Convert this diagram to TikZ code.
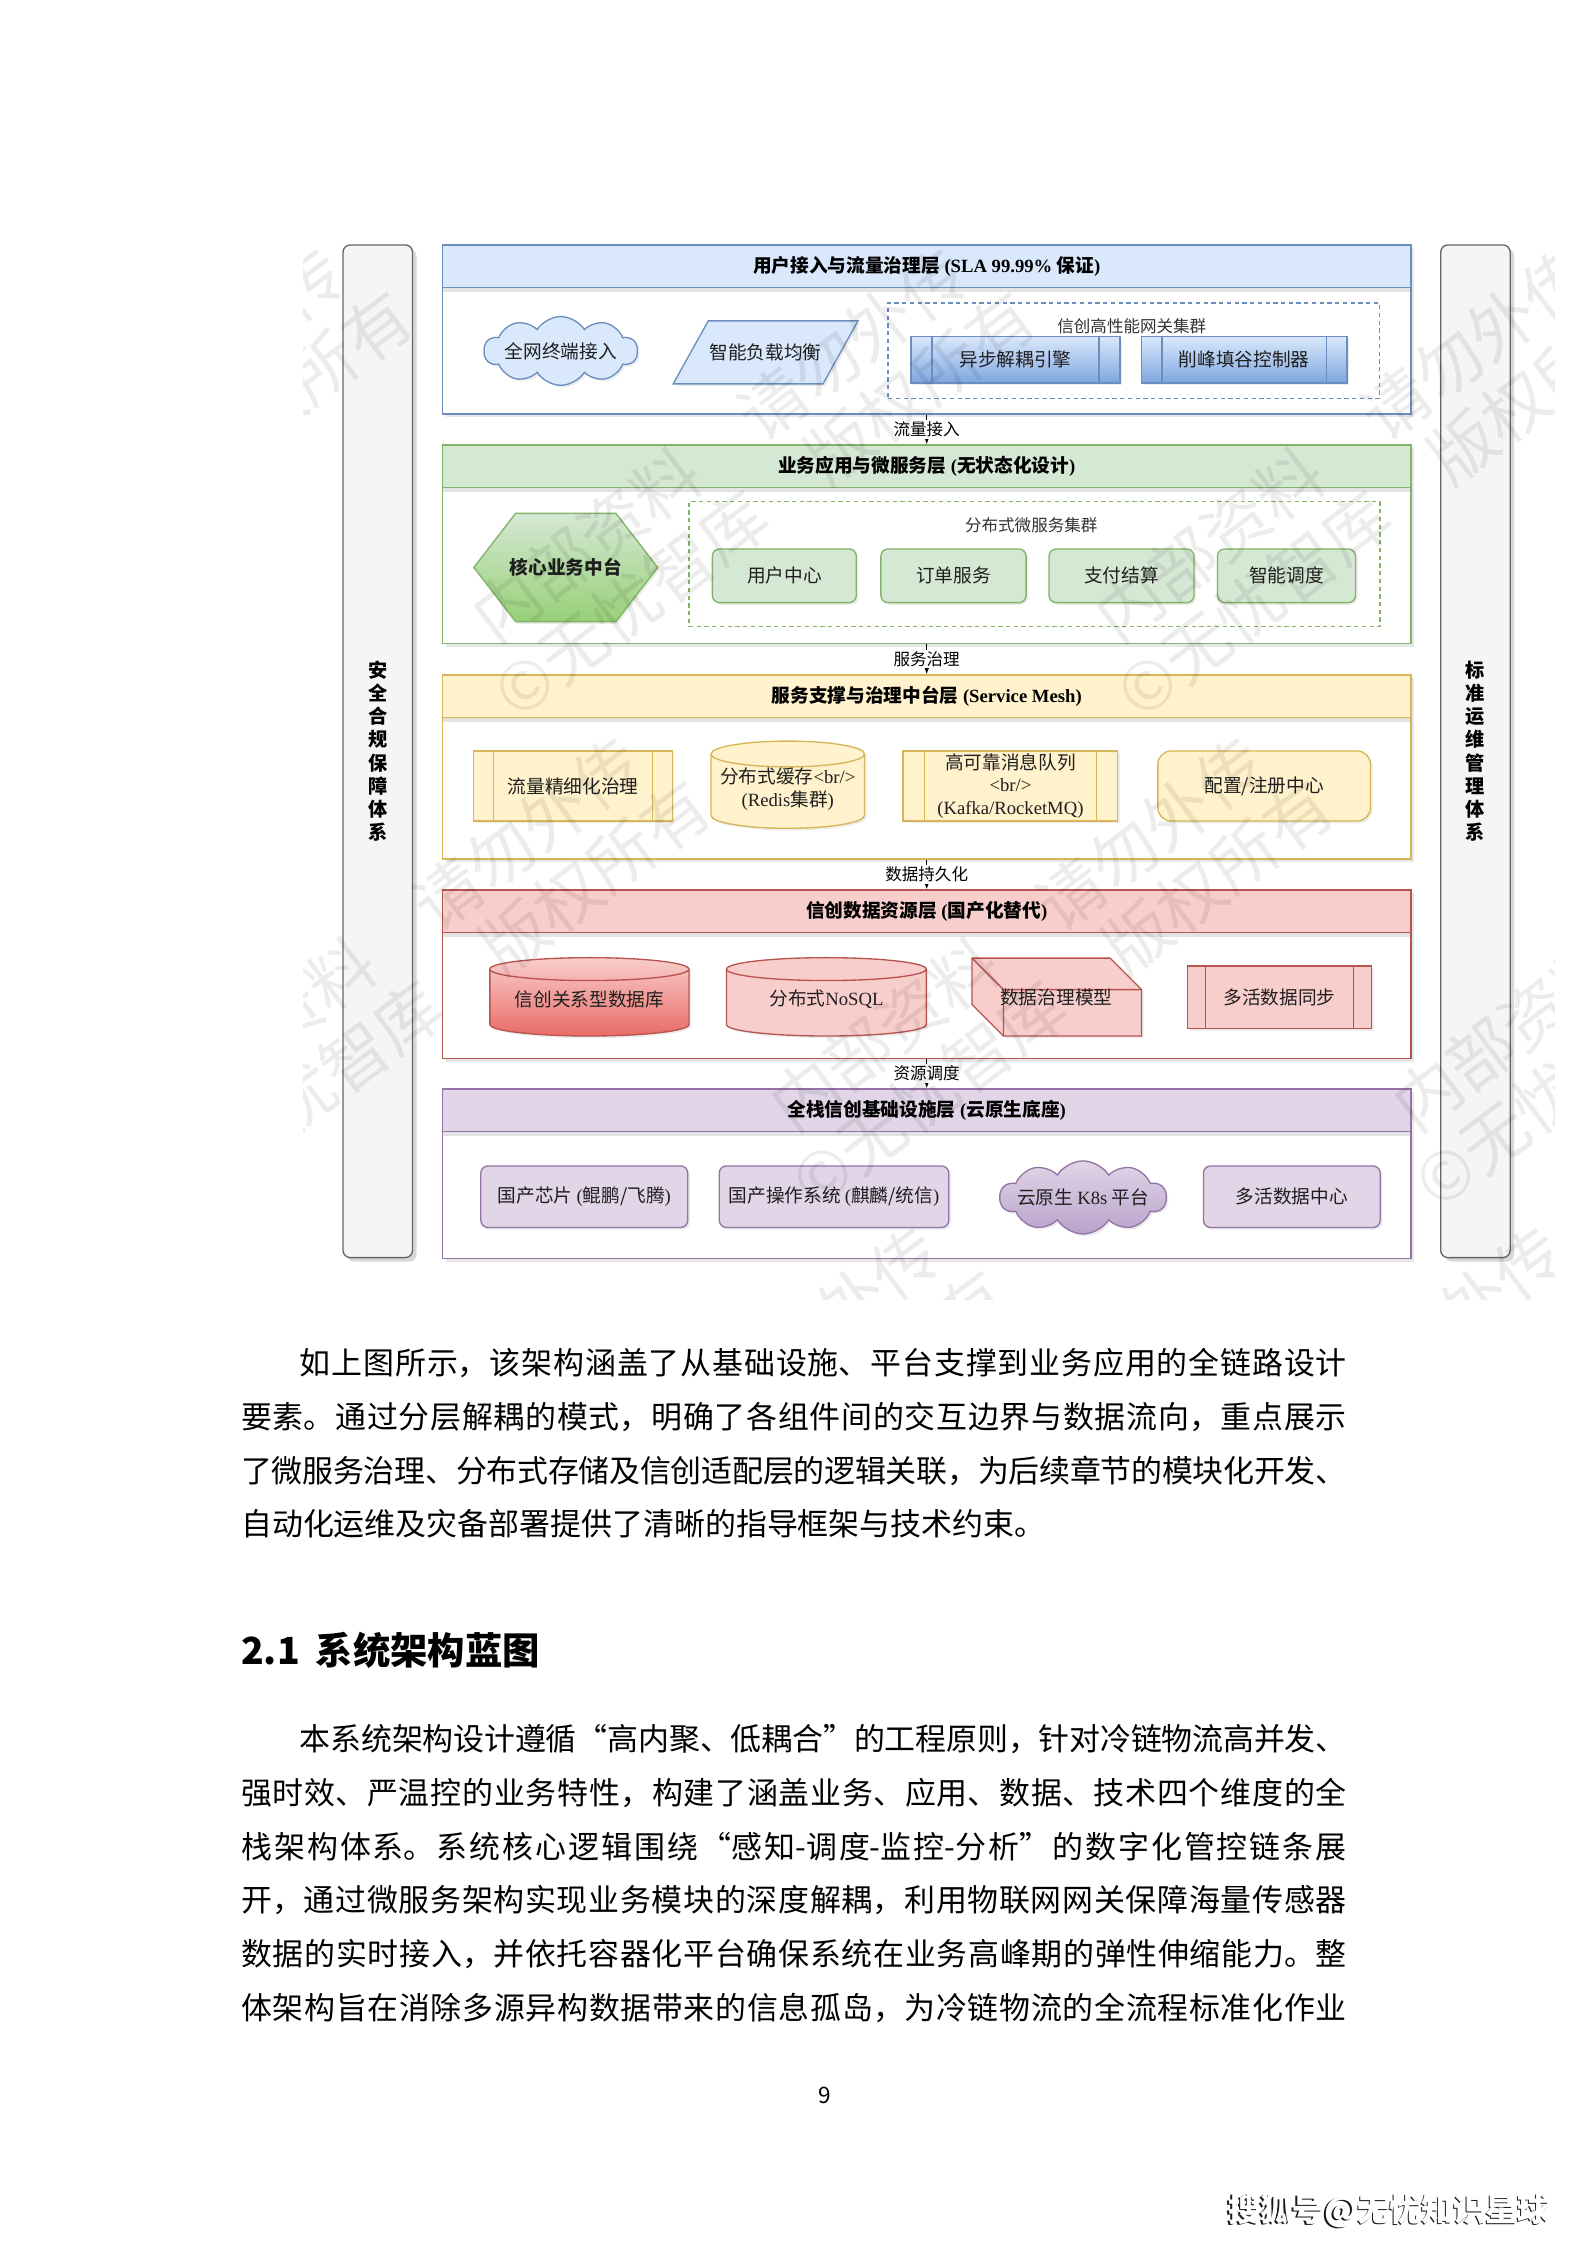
\documentclass[tikz,border=0pt]{standalone}
\usepackage{fontspec}
\setmainfont{Noto Sans CJK SC}
\newfontfamily\latnf{Liberation Serif}
\newcommand\latn[1]{{\latnf #1}}
\usetikzlibrary{shapes.symbols,arrows.meta,calc,shadows}
\XeTeXlinebreaklocale "zh"
\XeTeXlinebreakskip=0pt plus 3pt minus 0.4pt
\definecolor{bF}{HTML}{DAE8FC}\definecolor{bS}{HTML}{6C8EBF}\definecolor{bD}{HTML}{7EA6E0}
\definecolor{gF}{HTML}{D5E8D4}\definecolor{gS}{HTML}{82B366}\definecolor{gD}{HTML}{97D077}
\definecolor{yF}{HTML}{FFF2CC}\definecolor{yS}{HTML}{D6B656}
\definecolor{rF}{HTML}{F8CECC}\definecolor{rS}{HTML}{B85450}\definecolor{rD}{HTML}{EA6B66}
\definecolor{pF}{HTML}{E1D5E7}\definecolor{pS}{HTML}{9673A6}\definecolor{pD}{HTML}{B9A3CB}
\definecolor{sF}{HTML}{F5F5F5}\definecolor{sS}{HTML}{666666}
\def\dpx{0.5371pt}
\newcommand\cylpath[7]{%
  \path[draw=#6, line width=0.5pt, drop shadow={opacity=0.15, shadow xshift=0.8pt, shadow yshift=-0.8pt}, #7] (#1,#4-#5) arc[start angle=180, end angle=0, x radius={(#3-#1)/2}, y radius=#5] -- (#3,#2+#5) arc[start angle=0, end angle=-180, x radius={(#3-#1)/2}, y radius=#5] -- cycle;
  \draw[#6, line width=0.5pt] (#1,#2+#5) arc[start angle=180, end angle=0, x radius={(#3-#1)/2}, y radius=#5];
}
\begin{document}
\begin{tikzpicture}[x=0.5371pt,y=-0.5371pt,
  esh/.style={drop shadow={opacity=0.15, shadow xshift=0.8pt, shadow yshift=-0.8pt}},
  lbody/.style={draw=#1, fill=white, line width=0.5pt, minimum width=676*\dpx, inner sep=0pt, drop shadow={opacity=0.18, shadow xshift=1.2pt, shadow yshift=-1.2pt}},
  lhead/.style 2 args={draw=#2, fill=#1, line width=0.5pt, minimum width=676*\dpx, minimum height=29.5*\dpx, inner sep=0pt, anchor=north, font=\fontsize{7}{8}\selectfont\bfseries, drop shadow={opacity=0.22, shadow xshift=0pt, shadow yshift=-1.8pt}},
  sidebar/.style={draw=sS, fill=sF, line width=0.5pt, rounded corners=2.7pt, minimum width=48.5*\dpx, minimum height=707*\dpx, inner sep=0pt, align=center, font=\fontsize{7.2}{8.7}\selectfont\bfseries, drop shadow={opacity=0.3, shadow xshift=1.5pt, shadow yshift=-1.5pt}},
  box/.style={line width=0.5pt, inner sep=0pt, align=center, font=\fontsize{7}{8.6}\selectfont, text=black!88},
  rbox/.style 2 args={box, esh, draw=#2, fill=#1, rounded corners=2.7pt},
  proc/.style={box, esh, draw=#1, path picture={\draw[#1, line width=0.5pt] ($(path picture bounding box.north west)!0.1!(path picture bounding box.north east)$) -- ($(path picture bounding box.south west)!0.1!(path picture bounding box.south east)$) ($(path picture bounding box.north west)!0.9!(path picture bounding box.north east)$) -- ($(path picture bounding box.south west)!0.9!(path picture bounding box.south east)$);}},
  grp/.style={draw=#1, line width=0.5pt, dash pattern=on 1.6pt off 1.3pt, inner sep=0pt},
  gtitle/.style={inner sep=0pt, font=\fontsize{6.2}{7}\selectfont, text=black!80},
  cloudn/.style={cloud, cloud puffs=10, cloud puff arc=115, aspect=2.2, line width=0.5pt, inner sep=0pt, esh},
  conn/.style={draw=black, line width=0.5pt, -{Latex[length=3pt,width=2.4pt]}},
  clab/.style={fill=white, inner sep=0.6pt, font=\fontsize{6.2}{7}\selectfont},
  para/.style={anchor=base west, text width=414.6pt, inner sep=0pt, align=justify, font=\fontsize{11.6}{20.2}\selectfont},
  wm/.style={inner sep=0pt, align=center, rotate=37, font=\fontsize{25}{28}\selectfont, text=black, opacity=0.075}
]
\useasboundingbox[fill=white] (0,0) rectangle (1108,1567.4);

% side bars
\node[sidebar] (SL) at (263.75,524.5) {安\\全\\合\\规\\保\\障\\体\\系};
\node[sidebar] (SR) at (1030.1,524.5) {标\\准\\运\\维\\管\\理\\体\\系};

% ===== Layer 1
\node[lbody=bS, minimum height=118*\dpx] (L1) at (647,230) {};
\node[lhead={bF}{bS}] (H1) at (L1.north) {用户接入与流量治理层\latn{\bfseries\ (SLA 99.99\%} 保证\latn{\bfseries )}};
\node[cloudn, draw=bS, fill=bF, minimum width=107*\dpx, minimum height=48*\dpx] (cl1) at (391.5,245) {};
\node[box] (cl1t) at (391.5,245) {全网终端接入};
\path[draw=bS, fill=bF, line width=0.5pt, esh] (494.5,224) -- (599,224) -- (574.6,268) -- (470,268) -- cycle;
\node[box] (lb) at (534.5,246) {智能负载均衡};
\node[grp=bS, minimum width=343*\dpx, minimum height=66.5*\dpx] (G1) at (791.5,244.75) {};
\node[gtitle] (G1t) at (790.2,228) {信创高性能网关集群};
\node[proc=bS, top color=bF, bottom color=bD, minimum width=146*\dpx, minimum height=32.5*\dpx] (p1) at (709,251.25) {异步解耦引擎};
\node[proc=bS, top color=bF, bottom color=bD, minimum width=143.5*\dpx, minimum height=32.5*\dpx] (p2) at (868.75,251.25) {削峰填谷控制器};

% ===== Layer 2
\node[lbody=gS, minimum height=138.5*\dpx] (L2) at (647,379.95) {};
\node[lhead={gF}{gS}] (H2) at (L2.north) {业务应用与微服务层\latn{\bfseries\ (}无状态化设计\latn{\bfseries )}};
\path[draw=gS, top color=gF, bottom color=gD, line width=0.5pt, esh] (330.8,396.2) -- (360,358.4) -- (430,358.4) -- (459.2,396.2) -- (430,434) -- (360,434) -- cycle;
\node[box, font=\fontsize{7}{8.6}\selectfont\bfseries] (hex) at (395,396.2) {核心业务中台};
\node[grp=gS, minimum width=482.5*\dpx, minimum height=87.2*\dpx] (G2) at (722.25,393.9) {};
\node[gtitle] (G2t) at (720,366.6) {分布式微服务集群};
\node[rbox={gF}{gS}, minimum width=100.5*\dpx, minimum height=37.5*\dpx] (m1) at (547.6,402) {用户中心};
\node[rbox={gF}{gS}, minimum width=101.4*\dpx, minimum height=37.5*\dpx] (m2) at (665.7,402) {订单服务};
\node[rbox={gF}{gS}, minimum width=101.2*\dpx, minimum height=37.5*\dpx] (m3) at (783,402) {支付结算};
\node[rbox={gF}{gS}, minimum width=96.4*\dpx, minimum height=37.5*\dpx] (m4) at (898.2,402) {智能调度};

% ===== Layer 3
\node[lbody=yS, minimum height=128.5*\dpx] (L3) at (647,535.55) {};
\node[lhead={yF}{yS}] (H3) at (L3.north) {服务支撑与治理中台层\latn{\bfseries\ (Service Mesh)}};
\node[proc=yS, fill=yF, minimum width=138.6*\dpx, minimum height=48.9*\dpx] (s1) at (400.1,548.75) {流量精细化治理};
\cylpath{496.4}{517.4}{603.6}{578.3}{9}{yS}{fill=yF}
\node[box] (s2) at (550,551) {分布式缓存\latn{<br/>}\\\latn{(Redis}集群\latn{)}};
\node[proc=yS, fill=yF, minimum width=149.9*\dpx, minimum height=48.9*\dpx] (s3) at (705.45,548.75) {高可靠消息队列\\\latn{<br/>}\\\latn{(Kafka/RocketMQ)}};
\node[rbox={yF}{yS}, rounded corners=5pt, minimum width=148.4*\dpx, minimum height=48.9*\dpx] (s4) at (882.6,548.75) {配置/注册中心};

% ===== Layer 4
\node[lbody=rS, minimum height=117.5*\dpx] (L4) at (647,680.15) {};
\node[lhead={rF}{rS}] (H4) at (L4.north) {信创数据资源层\latn{\bfseries\ (}国产化替代\latn{\bfseries )}};
\cylpath{342}{668.6}{481}{723.3}{8}{rS}{top color=rF, bottom color=rD}
\node[box] (d1) at (411.5,697.5) {信创关系型数据库};
\cylpath{507.2}{668.6}{646.7}{723.3}{8}{rS}{fill=rF}
\node[box] (d2) at (577,697.5) {分布式\latn{NoSQL}};
\path[draw=rS, fill=rF, line width=0.5pt, esh] (678.6,668.9) -- (775,668.9) -- (797,690.9) -- (797,723.3) -- (700.6,723.3) -- (678.6,701.3) -- cycle;
\draw[rS, line width=0.5pt] (678.6,668.9) -- (700.6,690.9) -- (797,690.9) (700.6,690.9) -- (700.6,723.3);
\node[box] (d3) at (737.5,696.5) {数据治理模型};
\node[proc=rS, fill=rF, minimum width=128.7*\dpx, minimum height=43.6*\dpx] (d4) at (893.35,696.2) {多活数据同步};

% ===== Layer 5
\node[lbody=pS, minimum height=118.2*\dpx] (L5) at (647,819.4) {};
\node[lhead={pF}{pS}] (H5) at (L5.north) {全栈信创基础设施层\latn{\bfseries\ (}云原生底座\latn{\bfseries )}};
\node[rbox={pF}{pS}, minimum width=144.5*\dpx, minimum height=43*\dpx] (i1) at (407.95,835.5) {国产芯片 \latn{(}鲲鹏/飞腾\latn{)}};
\node[rbox={pF}{pS}, minimum width=160.2*\dpx, minimum height=43*\dpx] (i2) at (582.3,835.5) {国产操作系统 \latn{(}麒麟/统信\latn{)}};
\node[cloudn, draw=pS, top color=pF, bottom color=pD, minimum width=116*\dpx, minimum height=51*\dpx] (i3) at (756.15,836) {};
\node[box] (i3t) at (756.15,836) {云原生 \latn{K8s} 平台};
\node[rbox={pF}{pS}, minimum width=123.4*\dpx, minimum height=43*\dpx] (i4) at (901.9,835.5) {多活数据中心};

% connectors
\draw[conn] (L1.south) -- node[clab] (c1) {流量接入} (L2.north);
\draw[conn] (L2.south) -- node[clab] (c2) {服务治理} (L3.north);
\draw[conn] (L3.south) -- node[clab] (c3) {数据持久化} (L4.north);
\draw[conn] (L4.south) -- node[clab] (c4) {资源调度} (L5.north);

% watermark
\begin{scope}
\clip (212,138) rectangle (1085,907);
\foreach \wx/\wy [count=\wi] in {83/331,518/331,953/331,291/673,726/673,1161/673,499/1015,934/1015}
  \node[wm] (wm\wi) at (\wx,\wy) {内部资料　请勿外传\\©无忧智库　版权所有};
\end{scope}

% text
\node[para] (t1) at (168,959.5) {\hspace*{22pt}如上图所示，该架构涵盖了从基础设施、平台支撑到业务应用的全链路设计\linebreak 要素。通过分层解耦的模式，明确了各组件间的交互边界与数据流向，重点展示\linebreak 了微服务治理、分布式存储及信创适配层的逻辑关联，为后续章节的模块化开发、\linebreak 自动化运维及灾备部署提供了清晰的指导框架与技术约束。\par};
\node[anchor=base west, inner sep=0pt, font=\fontsize{14}{16}\selectfont\bfseries] (h21) at (168,1162) {2.1\hspace{6pt}系统架构蓝图};
\node[para] (t2) at (168,1222) {\parfillskip=0pt\relax\hspace*{22pt}本系统架构设计遵循“高内聚、低耦合”的工程原则，针对冷链物流高并发、\linebreak 强时效、严温控的业务特性，构建了涵盖业务、应用、数据、技术四个维度的全\linebreak 栈架构体系。系统核心逻辑围绕“感知-调度-监控-分析”的数字化管控链条展\linebreak 开，通过微服务架构实现业务模块的深度解耦，利用物联网网关保障海量传感器\linebreak 数据的实时接入，并依托容器化平台确保系统在业务高峰期的弹性伸缩能力。整\linebreak 体架构旨在消除多源异构数据带来的信息孤岛，为冷链物流的全流程标准化作业\par};
\node[inner sep=0pt, font=\fontsize{8.5}{10}\selectfont] (pg) at (576,1463) {9};
\node[anchor=east, inner sep=0pt, font=\fontsize{12}{14}\selectfont\bfseries, text=black!90] (sh0) at (1081.2,1544.2) {搜狐号@无忧知识星球};
\node[anchor=east, inner sep=0pt, font=\fontsize{12}{14}\selectfont\bfseries, text=white] (sh1) at (1082.2,1543.2) {搜狐号@无忧知识星球};
\end{tikzpicture}
\end{document}
